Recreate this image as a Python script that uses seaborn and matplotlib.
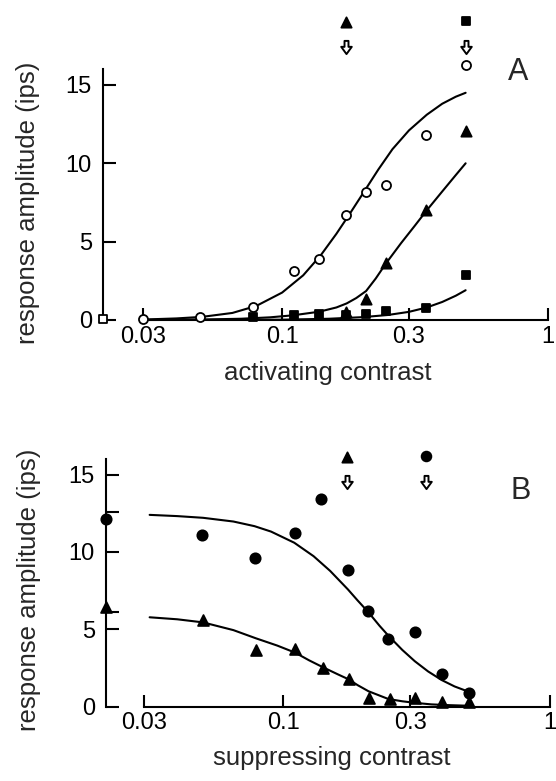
import matplotlib
matplotlib.use("Agg")
import matplotlib.pyplot as plt
import seaborn as sns
import pandas as pd
from matplotlib.path import Path

# ---------------- data ----------------
# Panel A : activating contrast
a_open_c = [0.03, 0.049, 0.078, 0.1105, 0.138, 0.174, 0.207, 0.246, 0.348, 0.49]
a_open_r = [0.05, 0.17, 0.85, 3.15, 3.91, 6.70, 8.15, 8.62, 11.8, 16.3]
a_open_zero_r = 0.05
a_tri_c = [0.174, 0.207, 0.246, 0.348, 0.49]
a_tri_r = [0.53, 1.32, 3.62, 7.02, 12.06]
a_sq_c = [0.078, 0.1105, 0.138, 0.174, 0.207, 0.246, 0.348, 0.49]
a_sq_r = [0.2, 0.32, 0.38, 0.32, 0.38, 0.6, 0.79, 2.87]
a_fit1_c = [0.03, 0.04, 0.05, 0.065, 0.08, 0.1, 0.12, 0.14, 0.16, 0.18, 0.2,
            0.23, 0.26, 0.3, 0.35, 0.4, 0.45, 0.49]
a_fit1_r = [0.03, 0.1, 0.2, 0.45, 0.9, 1.75, 2.85, 4.15, 5.5, 6.8, 8.0,
            9.6, 10.9, 12.1, 13.1, 13.8, 14.25, 14.5]
a_fit2_c = [0.03, 0.05, 0.07, 0.09, 0.11, 0.138, 0.16, 0.175, 0.19, 0.207,
            0.225, 0.246, 0.28, 0.315, 0.35, 0.4, 0.45, 0.49]
a_fit2_r = [0.0, 0.03, 0.08, 0.17, 0.3, 0.53, 0.8, 1.06, 1.4, 1.85,
            2.65, 3.62, 4.9, 6.0, 7.0, 8.2, 9.25, 10.0]
a_fit3_c = [0.03, 0.1, 0.15, 0.2, 0.25, 0.3, 0.35, 0.4, 0.45, 0.49]
a_fit3_r = [0.0, 0.02, 0.08, 0.18, 0.32, 0.52, 0.8, 1.15, 1.55, 1.9]
a_mark_c = [0.174, 0.49]
a_mark_r = [19.0, 19.1]
a_arrow_r = [17.45, 17.45]

# Panel B : suppressing contrast
b_circ_c = [0.0497, 0.0783, 0.1107, 0.1387, 0.175, 0.209, 0.248, 0.312, 0.394, 0.50]
b_circ_r = [11.1, 9.59, 11.21, 13.43, 8.84, 6.21, 4.38, 4.85, 2.09, 0.91]
b_circ_zero_r = 12.11
b_tri_c = [0.0499, 0.079, 0.111, 0.141, 0.176, 0.21, 0.251, 0.312, 0.394, 0.50]
b_tri_r = [5.6, 3.66, 3.71, 2.52, 1.77, 0.54, 0.48, 0.58, 0.32, 0.32]
b_tri_zero_r = 6.46
b_fit1_c = [0.0315, 0.04, 0.05, 0.065, 0.078, 0.09, 0.11, 0.13, 0.15, 0.175,
            0.19, 0.209, 0.23, 0.248, 0.28, 0.312, 0.35, 0.394, 0.44, 0.5]
b_fit1_r = [12.4, 12.32, 12.21, 11.97, 11.67, 11.32, 10.6, 9.73, 8.78, 7.58,
            6.88, 6.1, 5.23, 4.6, 3.67, 2.94, 2.28, 1.72, 1.31, 0.95]
b_fit2_c = [0.0315, 0.04, 0.05, 0.065, 0.079, 0.095, 0.111, 0.125, 0.141, 0.16,
            0.176, 0.19, 0.209, 0.23, 0.248, 0.28, 0.312, 0.36, 0.42, 0.5]
b_fit2_r = [5.78, 5.65, 5.45, 4.95, 4.42, 3.95, 3.49, 3.0, 2.55, 2.1,
            1.77, 1.4, 1.0, 0.72, 0.5, 0.35, 0.25, 0.15, 0.1, 0.06]
b_mark_tri = (0.173, 16.12)
b_mark_circ = (0.345, 16.2)
b_arrow_c = [0.173, 0.345]
b_arrow_r = [14.5, 14.5]
b_extra_ticks = [12.6, 6.1]

xticks = [0.03, 0.1, 0.3, 1]
xtick_labels = ["0.03", "0.1", "0.3", "1"]
yticks = [0, 5, 10, 15]

# ---------------- style ----------------
sns.set_style("ticks")
plt.rcParams["font.family"] = ["Liberation Sans", "DejaVu Sans"]

W, H = 556, 781
fig = plt.figure(figsize=(W / 100, H / 100), dpi=100)

arrow_marker = Path([(-0.3, 1.0), (0.3, 1.0), (0.3, 0.1), (0.8, 0.1),
                     (0.0, -1.0), (-0.8, 0.1), (-0.3, 0.1), (-0.3, 1.0)],
                    [Path.MOVETO] + [Path.LINETO] * 6 + [Path.CLOSEPOLY])

LW = 1.5
TICK_FS = 17
LABEL_FS = 18.5


def style_axes(ax, xleft, ylo, yhi):
    ax.set_xscale("log")
    ax.set_xlim(xleft, 1.0)
    ax.set_ylim(ylo, yhi)
    for s in ["top", "right"]:
        ax.spines[s].set_visible(False)
    ax.spines["left"].set_bounds(0, 16)
    ax.spines["bottom"].set_position(("data", 0))
    ax.spines["bottom"].set_bounds(0.03, 1.0)
    for s in ["left", "bottom"]:
        ax.spines[s].set_linewidth(LW)
        ax.spines[s].set_color("black")
    ax.set_xticks(xticks)
    ax.set_xticklabels(xtick_labels)
    ax.xaxis.set_minor_locator(matplotlib.ticker.NullLocator())
    ax.set_yticks(yticks)
    ax.set_yticklabels([str(v) for v in yticks])
    ax.tick_params(axis="both", which="both", direction="in", length=9,
                   width=LW, colors="black", labelsize=TICK_FS)
    ax.tick_params(axis="x", pad=4)
    ax.tick_params(axis="y", pad=8)
    ax.set_xlabel("")
    ax.set_ylabel("")
    ax.patch.set_alpha(0)


def scatter(ax, x, y, marker, size, face, edge="black", lw=1.3):
    sns.scatterplot(x=x, y=y, ax=ax, marker=marker, s=size ** 2, color=edge,
                    facecolor=face, edgecolor=edge, linewidth=lw,
                    clip_on=False, zorder=4, legend=False)


def curve(ax, x, y):
    sns.lineplot(x=x, y=y, ax=ax, color="black", linewidth=LW, sort=False,
                 estimator=None, zorder=3, legend=False)


# ---------------- Panel A ----------------
axA = fig.add_axes([103 / W, 1 - 335.67 / H, 445 / W, 329.07 / H])
xA0 = 0.0212
curve(axA, a_fit1_c, a_fit1_r)
curve(axA, a_fit2_c, a_fit2_r)
curve(axA, a_fit3_c, a_fit3_r)
scatter(axA, a_open_c, a_open_r, "o", 6.5, "white")
scatter(axA, [xA0], [a_open_zero_r], "s", 6.0, "white")
scatter(axA, a_tri_c, a_tri_r, "^", 7.4, "black")
scatter(axA, a_sq_c, a_sq_r, "s", 6.4, "black")
scatter(axA, [a_mark_c[0]], [a_mark_r[0]], "^", 7.4, "black")
scatter(axA, [a_mark_c[1]], [a_mark_r[1]], "s", 6.4, "black")
scatter(axA, a_mark_c, a_arrow_r, arrow_marker, 9.5, "white", lw=1.4)
style_axes(axA, xA0, -1, 20)

# ---------------- Panel B ----------------
axB = fig.add_axes([106 / W, 1 - 722.17 / H, 443.5 / W, 286.2 / H])
xB0 = 0.0216
curve(axB, b_fit1_c, b_fit1_r)
curve(axB, b_fit2_c, b_fit2_r)
scatter(axB, b_circ_c, b_circ_r, "o", 7.4, "black")
scatter(axB, [xB0], [b_circ_zero_r], "o", 7.4, "black")
scatter(axB, b_tri_c, b_tri_r, "^", 7.8, "black")
scatter(axB, [xB0], [b_tri_zero_r], "^", 7.8, "black")
scatter(axB, [b_mark_tri[0]], [b_mark_tri[1]], "^", 7.4, "black")
scatter(axB, [b_mark_circ[0]], [b_mark_circ[1]], "o", 7.0, "black")
scatter(axB, b_arrow_c, b_arrow_r, arrow_marker, 9.5, "white", lw=1.4)
style_axes(axB, xB0, -1, 17.5)
axB.set_yticks(b_extra_ticks, minor=True)
axB.tick_params(axis="y", which="minor", direction="in", length=9, width=LW)

# ---------------- texts ----------------
fig.text(518 / W, 1 - 72 / H, "A", fontsize=22, ha="center", va="center")
fig.text(521 / W, 1 - 491 / H, "B", fontsize=22, ha="center", va="center")
fig.text(328 / W, 1 - 380 / H, "activating contrast", fontsize=LABEL_FS,
         ha="center", va="baseline")
fig.text(332 / W, 1 - 765 / H, "suppressing contrast", fontsize=LABEL_FS,
         ha="center", va="baseline")
fig.text(28 / W, 1 - 203 / H, "response amplitude (ips)", fontsize=LABEL_FS,
         rotation=90, ha="center", va="center")
fig.text(29 / W, 1 - 590 / H, "response amplitude (ips)", fontsize=LABEL_FS,
         rotation=90, ha="center", va="center")

fig.savefig("out.png", dpi=100, facecolor="white")
